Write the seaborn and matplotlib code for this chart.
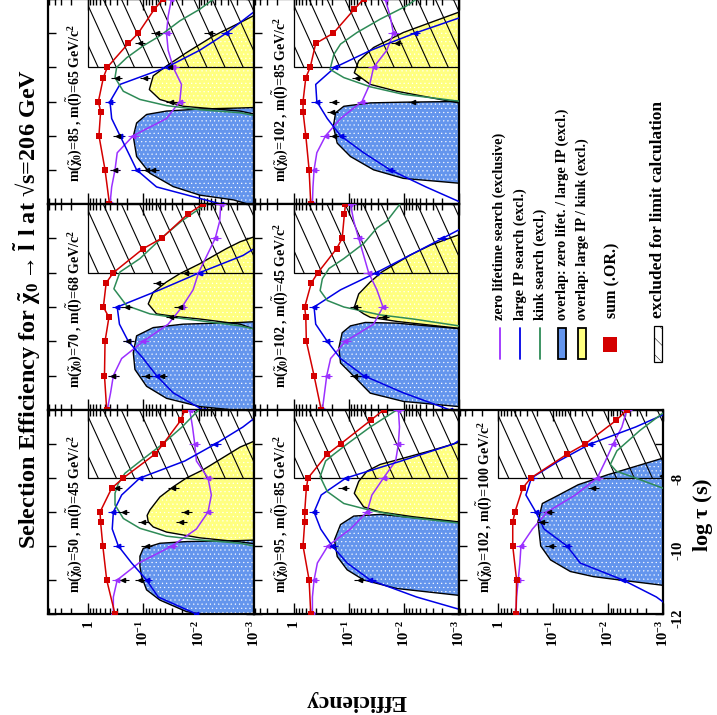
import numpy as np
import matplotlib
matplotlib.use("Agg")
import matplotlib.pyplot as plt
from matplotlib.patches import Rectangle
from matplotlib.lines import Line2D
from matplotlib.ticker import (FixedLocator, FixedFormatter, LogLocator,
                               NullFormatter, MultipleLocator, FuncFormatter)
import seaborn as sns

# ------------------------------------------------------------------
# Efficiencies are stored as log10(efficiency) versus log10(tau / s)
# ------------------------------------------------------------------
TAU_SUM = [-12, -11, -10, -9.3, -9, -8.3, -8, -7.3, -7, -6.3, -6]
TAU_GRID = [-12, -11.5, -11, -10.5, -10, -9.5, -9, -8.5, -8, -7.5, -7, -6.5, -6]

# m(chi0)=50, m(slepton)=45
sum_50_45 = [-0.49, -0.34, -0.27, -0.23, -0.22, -0.43, -0.64, -1.21, -1.36, -1.68, -1.75]
zl_50_45 = [-0.46, -0.46, -0.53, -0.92, -1.52, -1.96, -2.17, -2.23, -2.17, -1.96, -1.93, -1.89, -1.84]
ip_50_45 = [-1.96, -1.27, -1.06, -0.79, -0.55, -0.44, -0.46, -0.61, -0.94, -1.75, -2.3, -2.8, -3.2]
kink_tau_50_45 = [-10.1, -9.92, -9.82, -9.71, -9.48, -9.19, -8.79, -8.45, -8.16, -7.86, -7.5, -7.0, -6.5, -6.0]
kink_50_45 = [-3.3, -2.75, -2.02, -1.42, -0.94, -0.64, -0.49, -0.49, -0.55, -0.67, -0.95, -1.35, -1.7, -2.0]
ipk_tau_50_45 = [-9.95, -9.88, -9.76, -9.59, -9.44, -9.29, -9.1, -8.94, -8.56, -8.26, -8.0, -7.76, -7.09, -6.85]
ipk_50_45 = [-3.1, -2.75, -2.02, -1.42, -1.18, -1.09, -1.07, -1.12, -1.30, -1.54, -1.78, -2.08, -2.75, -3.1]
zli_tau_50_45 = [-12.1, -12.0, -11.93, -11.59, -11.29, -10.9, -10.6, -10.3, -10.07, -9.92, -9.87, -9.84, -9.82]
zli_50_45 = [-2.1, -2.02, -1.78, -1.30, -1.06, -0.97, -0.94, -0.94, -1.0, -1.3, -1.78, -2.75, -3.1]
pts_tau_50_45 = [-11, -11, -10, -9.3, -9, -9.3, -9, -8.3, -8.3]
pts_50_45 = [-0.64, -0.94, -1.06, -1.0, -0.65, -1.69, -1.78, -1.54, -0.52]

# m(chi0)=70, m(slepton)=68
sum_70_68 = [-0.34, -0.30, -0.31, -0.38, -0.28, -0.33, -0.46, -1.0, -1.33, -1.8, -2.08]
zl_70_68 = [-0.35, -0.41, -0.46, -0.61, -1.0, -1.45, -1.7, -1.9, -2.0, -2.15, -2.3, -2.38, -2.4]
ip_70_68 = [-2.08, -1.54, -1.24, -1.0, -0.73, -0.57, -0.53, -1.3, -2.02, -2.8, -3.3, -3.5, -3.5]
kink_tau_70_68 = [-9.75, -9.55, -9.3, -9.2, -8.96, -8.47, -7.98, -7.59, -6.95, -6.5, -6.0]
kink_70_68 = [-3.3, -2.75, -1.54, -1.12, -0.70, -0.47, -0.58, -0.94, -1.36, -1.69, -2.14]
ipk_tau_70_68 = [-9.7, -9.5, -9.35, -9.27, -9.2, -8.91, -8.57, -8.27, -8.03, -7.74, -7.3, -7.1, -6.9]
ipk_70_68 = [-3.1, -2.75, -2.02, -1.54, -1.24, -1.09, -1.18, -1.42, -1.66, -2.02, -2.5, -2.75, -3.1]
zli_tau_70_68 = [-12.1, -12.0, -11.9, -11.66, -11.31, -10.82, -10.33, -9.84, -9.6, -9.5, -9.45, -9.42]
zli_70_68 = [-2.9, -2.63, -2.02, -1.42, -1.06, -0.85, -0.82, -0.88, -1.18, -1.72, -2.75, -3.1]
pts_tau_70_68 = [-11, -10, -11, -11, -9, -8.3, -9.3, -9, -8]
pts_70_68 = [-0.46, -0.73, -1.06, -1.33, -0.70, -1.27, -1.51, -1.66, -1.78]

# m(chi0)=85, m(slepton)=65
sum_85_65 = [-0.39, -0.31, -0.20, -0.23, -0.19, -0.28, -0.35, -0.73, -0.91, -1.2, -1.36]
zl_85_65 = [-0.40, -0.43, -0.49, -0.53, -0.82, -1.42, -1.66, -1.69, -1.54, -1.45, -1.42, -1.45, -1.51]
ip_85_65 = [-2.4, -1.24, -0.88, -0.73, -0.58, -0.43, -0.40, -0.58, -1.42, -2.02, -2.5, -2.9, -3.3]
kink_tau_85_65 = [-9.5, -9.33, -9.24, -9.12, -8.94, -8.7, -8.3, -8.0, -7.72, -7.37, -7.08, -6.64, -6.3, -6.0]
kink_85_65 = [-3.3, -2.75, -2.02, -1.42, -0.94, -0.64, -0.49, -0.52, -0.70, -1.0, -1.30, -1.66, -2.02, -2.27]
ipk_tau_85_65 = [-9.4, -9.28, -9.14, -8.94, -8.65, -8.25, -7.96, -7.57, -7.08, -6.69, -6.4]
ipk_85_65 = [-3.1, -2.75, -1.72, -1.30, -1.11, -1.18, -1.42, -1.78, -2.27, -2.75, -3.1]
zli_tau_85_65 = [-12.1, -11.88, -11.74, -11.49, -11.1, -10.61, -10.02, -9.63, -9.38, -9.28, -9.22, -9.19, -9.17]
zli_85_65 = [-3.1, -2.63, -2.02, -1.54, -1.12, -0.88, -0.82, -0.88, -1.06, -1.42, -2.02, -2.75, -3.1]
pts_tau_85_65 = [-11, -10, -11, -11, -8.3, -8.3, -9, -8, -7.3, -7, -7]
pts_85_65 = [-0.49, -0.55, -1.06, -1.18, -0.52, -1.03, -1.51, -1.48, -0.94, -1.24, -2.2]

# m(chi0)=95, m(slepton)=85
sum_95_85 = [-0.31, -0.28, -0.17, -0.20, -0.20, -0.23, -0.26, -0.61, -0.85, -1.4, -1.63]
zl_95_85 = [-0.34, -0.34, -0.37, -0.43, -0.62, -1.03, -1.33, -1.42, -1.63, -1.85, -1.9, -1.92, -1.9]
ip_95_85 = [-3.3, -2.23, -1.39, -0.97, -0.70, -0.49, -0.37, -0.5, -0.95, -1.95, -2.9, -3.4, -3.5]
kink_tau_95_85 = [-9.45, -9.33, -9.14, -8.95, -8.75, -8.4, -7.96, -7.5, -7.3, -7.0, -6.5, -6.0]
kink_95_85 = [-3.3, -3.02, -1.99, -1.39, -0.91, -0.61, -0.48, -0.58, -0.73, -0.97, -1.39, -1.87]
ipk_tau_95_85 = [-9.4, -9.29, -9.14, -9.0, -8.85, -8.45, -8.1, -7.8, -7.6, -7.47, -7.2, -6.95, -6.85]
ipk_95_85 = [-3.2, -2.99, -2.17, -1.57, -1.27, -1.10, -1.18, -1.33, -1.57, -1.87, -2.48, -3.0, -3.2]
zli_tau_95_85 = [-11.6, -11.45, -11.25, -11.0, -10.7, -10.31, -9.82, -9.37, -9.12, -9.07, -9.3, -9.35]
zli_95_85 = [-3.2, -2.99, -1.87, -1.27, -0.97, -0.79, -0.74, -0.85, -1.09, -1.57, -2.99, -3.2]
pts_tau_95_85 = [-8.3, -11]
pts_95_85 = [-0.91, -1.2]

# m(chi0)=102, m(slepton)=45
sum_102_45 = [-0.50, -0.37, -0.23, -0.22, -0.20, -0.32, -0.44, -0.78, -0.88, -0.92, -0.94]
zl_102_45 = [-0.52, -0.56, -0.60, -0.67, -0.94, -1.45, -1.62, -1.51, -1.36, -1.27, -1.18, -1.09, -1.03]
ip_102_45 = [-2.84, -1.99, -1.27, -0.85, -0.61, -0.40, -0.37, -0.85, -1.5, -2.1, -2.7, -3.3, -3.5]
kink_tau_102_45 = [-9.7, -9.55, -9.35, -9.23, -9.0, -8.81, -8.52, -8.18, -7.88, -7.59, -7.15, -6.7, -6.5, -6.0]
kink_102_45 = [-3.3, -3.0, -2.17, -1.57, -0.91, -0.61, -0.48, -0.52, -0.64, -0.91, -1.27, -1.51, -1.69, -1.93]
ipk_tau_102_45 = [-9.75, -9.62, -9.42, -9.3, -9.2, -9.01, -8.62, -8.27, -7.98, -7.49, -7.2, -6.9, -6.75]
ipk_102_45 = [-3.2, -2.99, -1.87, -1.39, -1.27, -1.10, -1.18, -1.39, -1.60, -2.11, -2.48, -2.99, -3.2]
zli_tau_102_45 = [-12.05, -11.9, -11.75, -11.51, -10.92, -10.63, -10.19, -9.75, -9.55, -9.45, -9.47, -9.63, -9.68]
zli_102_45 = [-3.2, -2.99, -1.99, -1.39, -1.03, -0.85, -0.82, -0.88, -1.03, -1.3, -1.87, -2.99, -3.2]
pts_tau_102_45 = [-11, -9, -9.3]
pts_102_45 = [-1.12, -1.12, -1.63]

# m(chi0)=102, m(slepton)=85
sum_102_85 = [-0.31, -0.28, -0.22, -0.17, -0.17, -0.22, -0.30, -0.40, -0.72, -1.1, -1.27]
zl_102_85 = [-0.34, -0.35, -0.37, -0.42, -0.58, -0.85, -1.24, -1.38, -1.45, -1.69, -1.81, -1.75, -1.66]
ip_102_85 = [-3.1, -2.4, -1.75, -1.27, -0.85, -0.61, -0.42, -0.40, -0.75, -1.4, -2.2, -3.1, -3.5]
kink_tau_102_85 = [-9.1, -8.99, -8.79, -8.57, -8.3, -8.06, -7.62, -7.32, -6.98, -6.59, -6.2, -6.0]
kink_102_85 = [-3.3, -3.0, -1.99, -1.39, -0.91, -0.66, -0.73, -0.85, -1.15, -1.57, -2.05, -2.23]
ipk_tau_102_85 = [-9.1, -9.04, -8.7, -8.5, -8.16, -7.81, -7.42, -6.98, -6.69, -6.39, -6.25]
ipk_102_85 = [-3.2, -2.99, -1.87, -1.39, -1.10, -1.18, -1.45, -1.99, -2.48, -2.99, -3.2]
zli_tau_102_85 = [-11.45, -11.39, -11.25, -11.0, -10.61, -10.22, -9.73, -9.33, -9.14, -9.04, -9.02, -9.0, -8.98]
zli_102_85 = [-3.2, -2.99, -1.99, -1.45, -1.03, -0.79, -0.72, -0.76, -0.91, -1.39, -1.99, -2.99, -3.2]
pts_tau_102_85 = [-10, -9.3, -9, -8.3, -9, -7.3]
pts_102_85 = [-0.73, -0.70, -0.73, -1.15, -2.17, -1.87]

# m(chi0)=102, m(slepton)=100
sum_102_100 = [-0.32, -0.33, -0.26, -0.26, -0.30, -0.44, -0.59, -1.25, -1.58, -2.15, -2.34]
zl_102_100 = [-0.32, -0.33, -0.36, -0.39, -0.41, -0.62, -0.89, -1.40, -1.8, -1.95, -2.09, -2.25, -2.34]
ip_102_100 = [-3.3, -2.88, -2.27, -1.49, -1.25, -0.83, -0.68, -0.50, -0.6, -1.1, -1.67, -2.5, -3.2]
kink_tau_102_100 = [-8.5, -8.3, -8.0, -7.8, -7.6, -7.2, -6.6, -6.1, -6.0]
kink_102_100 = [-3.3, -3.0, -2.5, -2.15, -2.04, -2.16, -2.58, -2.99, -3.1]
ipk_tau_102_100 = [-8.15, -7.95, -7.75]
ipk_102_100 = [-3.2, -2.95, -3.2]
zli_tau_102_100 = [-11.25, -11.15, -11.0, -10.9, -10.75, -10.41, -10.0, -9.28, -8.75, -8.5, -8.2, -7.9, -7.42, -7.3]
zli_102_100 = [-3.2, -2.97, -2.21, -1.73, -1.31, -0.95, -0.77, -0.72, -0.8, -1.1, -1.45, -2.0, -2.99, -3.2]
pts_tau_102_100 = [-9, -9.3, -10, -8.3]
pts_102_100 = [-0.92, -0.80, -0.95, -1.73]

TICK_VALUES = [1, 0.1, 0.01, 0.001]
TICK_LABELS = ["1", r"$10^{-1}$", r"$10^{-2}$", r"$10^{-3}$"]
TAU_LABELS = [-12, -10, -8]

LEGEND_LABELS = ["zero lifetime search (exclusive)", "large IP search (excl.)",
                 "kink search (excl.)", "overlap: zero lifet. / large IP (excl.)",
                 "overlap: large IP / kink (excl.)", "sum (.OR.)",
                 "excluded for limit calculation"]

# ------------------------------------------------------------------
PURPLE = "#9b30ff"
BLUE = "#0000e6"
GREEN = "#2e8b57"
RED = "#d40000"
FILL_BLUE = "#6495ed"
FILL_YELLOW = "#ffff80"
EFF_MAX, EFF_MIN = 10 ** 0.72, 1e-3
FLOOR = 1e-5
REL_ERR = 1.25

sns.set_theme(style="ticks", rc={"axes.edgecolor": "black", "text.color": "black",
                                 "xtick.color": "black", "ytick.color": "black",
                                 "axes.labelcolor": "black"})
plt.rcParams["font.family"] = ["Liberation Serif", "DejaVu Serif"]
plt.rcParams["font.weight"] = "bold"
plt.rcParams["mathtext.fontset"] = "custom"
plt.rcParams["mathtext.rm"] = "Liberation Serif:bold"
plt.rcParams["mathtext.it"] = "Liberation Serif:italic:bold"
plt.rcParams["mathtext.bf"] = "Liberation Serif:bold"
plt.rcParams["mathtext.default"] = "rm"
plt.rcParams["axes.unicode_minus"] = False
plt.rcParams["hatch.linewidth"] = 0.35

W, H = 717, 715
fig = plt.figure(figsize=(W / 100, H / 100), dpi=100)
fig.patch.set_facecolor("white")


def fx(x):
    return x / W


def fy(y):
    return 1 - y / H


COLS = [(48, 254), (254, 459), (459, 663)]
ROWS = [(-1, 204), (204, 410), (410, 614)]


def panel(m_chi, m_sl, col, row, s, zl, ip, ktau, k, ytau, y, btau, b, ptau, p):
    return dict(m_chi=m_chi, m_sl=m_sl, col=col, row=row, sum=s, zl=zl, ip=ip,
                ktau=ktau, k=k, ytau=ytau, y=y, btau=btau, b=b, ptau=ptau, p=p)


PANELS = [
    panel(85, 65, 0, 0, sum_85_65, zl_85_65, ip_85_65, kink_tau_85_65, kink_85_65,
          ipk_tau_85_65, ipk_85_65, zli_tau_85_65, zli_85_65, pts_tau_85_65, pts_85_65),
    panel(70, 68, 0, 1, sum_70_68, zl_70_68, ip_70_68, kink_tau_70_68, kink_70_68,
          ipk_tau_70_68, ipk_70_68, zli_tau_70_68, zli_70_68, pts_tau_70_68, pts_70_68),
    panel(50, 45, 0, 2, sum_50_45, zl_50_45, ip_50_45, kink_tau_50_45, kink_50_45,
          ipk_tau_50_45, ipk_50_45, zli_tau_50_45, zli_50_45, pts_tau_50_45, pts_50_45),
    panel(102, 85, 1, 0, sum_102_85, zl_102_85, ip_102_85, kink_tau_102_85, kink_102_85,
          ipk_tau_102_85, ipk_102_85, zli_tau_102_85, zli_102_85, pts_tau_102_85, pts_102_85),
    panel(102, 45, 1, 1, sum_102_45, zl_102_45, ip_102_45, kink_tau_102_45, kink_102_45,
          ipk_tau_102_45, ipk_102_45, zli_tau_102_45, zli_102_45, pts_tau_102_45, pts_102_45),
    panel(95, 85, 1, 2, sum_95_85, zl_95_85, ip_95_85, kink_tau_95_85, kink_95_85,
          ipk_tau_95_85, ipk_95_85, zli_tau_95_85, zli_95_85, pts_tau_95_85, pts_95_85),
    panel(102, 100, 2, 2, sum_102_100, zl_102_100, ip_102_100, kink_tau_102_100, kink_102_100,
          ipk_tau_102_100, ipk_102_100, zli_tau_102_100, zli_102_100, pts_tau_102_100, pts_102_100),
]


def draw_fill(ax, tau, lg, color):
    tau = np.asarray(tau, float)
    eff = 10 ** np.asarray(lg, float)
    xs = np.concatenate([[FLOOR], eff, [FLOOR]])
    ys = np.concatenate([[tau[0]], tau, [tau[-1]]])
    ax.fill(xs, ys, facecolor=color, edgecolor="white", lw=0, hatch="....", zorder=1)
    ax.plot(eff, tau, color="black", lw=1.0, zorder=1.5)


def err(eff):
    eff = np.asarray(eff)
    return np.vstack([eff - eff / REL_ERR, eff * REL_ERR - eff])


def draw_panel(d):
    x0, x1 = COLS[d["col"]]
    y0, y1 = ROWS[d["row"]]
    ax = fig.add_axes([fx(x0), fy(y1), (x1 - x0) / W, (y1 - y0) / H])
    ax.set_facecolor("white")
    ax.set_xscale("log")
    ax.set_xlim(EFF_MAX, EFF_MIN)
    ax.set_ylim(-12, -6)

    draw_fill(ax, d["ytau"], d["y"], FILL_YELLOW)
    draw_fill(ax, d["btau"], d["b"], FILL_BLUE)

    # region excluded for the limit calculation
    rect = Rectangle((EFF_MIN, -8), 1 - EFF_MIN, 2, fill=False, edgecolor="black",
                     lw=0.9, zorder=2)
    ax.add_patch(rect)
    for c in np.arange(-0.7, 1.3, 0.088):
        ln, = ax.plot([c, c + 0.5], [1.0, -0.1], transform=ax.transAxes,
                      color="black", lw=0.8, zorder=2)
        ln.set_clip_path(rect)

    tg = np.array(TAU_GRID)
    sns.lineplot(x=10 ** np.array(d["zl"]), y=tg, sort=False, estimator=None,
                 color=PURPLE, lw=1.1, ax=ax, zorder=3)
    sns.lineplot(x=10 ** np.array(d["ip"]), y=tg, sort=False, estimator=None,
                 color=BLUE, lw=1.1, ax=ax, zorder=3)
    sns.lineplot(x=10 ** np.array(d["k"]), y=np.array(d["ktau"]), sort=False,
                 estimator=None, color=GREEN, lw=1.1, ax=ax, zorder=3)
    sns.lineplot(x=10 ** np.array(d["sum"]), y=np.array(TAU_SUM), sort=False,
                 estimator=None, color=RED, lw=1.1, ax=ax, zorder=3)

    # measured points at integer lifetimes
    on_int = np.isclose(tg, np.round(tg))
    for series, color in ((d["zl"], PURPLE), (d["ip"], BLUE)):
        v = np.array(series)
        keep = on_int & (v > -2.9)
        e = 10 ** v[keep]
        ax.errorbar(e, tg[keep], xerr=err(e), fmt="<", ms=3.2, color=color,
                    elinewidth=0.8, capsize=0, zorder=4)
    pe = 10 ** np.array(d["p"])
    ax.errorbar(pe, np.array(d["ptau"]), xerr=err(pe), fmt="<", ms=3.0,
                color="black", elinewidth=0.8, capsize=0, zorder=4)
    sns.scatterplot(x=10 ** np.array(d["sum"]), y=np.array(TAU_SUM), marker="s",
                    s=22, color=RED, edgecolor=RED, linewidth=0, ax=ax, zorder=5)

    ax.text(0.125, 0.105,
            r"m($\tilde{\chi}_0$)=%d , m($\tilde{l}$)=%d GeV/c$^2$" % (d["m_chi"], d["m_sl"]),
            transform=ax.transAxes, rotation=90, ha="center", va="bottom",
            fontsize=10, fontweight="bold", zorder=6)

    # axes styling
    ax.xaxis.set_major_locator(FixedLocator(TICK_VALUES))
    ax.xaxis.set_major_formatter(FixedFormatter(TICK_LABELS))
    ax.xaxis.set_minor_locator(LogLocator(base=10, subs=np.arange(2, 10), numticks=30))
    ax.xaxis.set_minor_formatter(NullFormatter())
    ax.yaxis.set_major_locator(MultipleLocator(1))
    ax.yaxis.set_major_formatter(FuncFormatter(
        lambda v, pos: "%d" % round(v) if round(v) in TAU_LABELS else ""))
    ax.tick_params(which="both", direction="in", top=True, bottom=True,
                   left=True, right=True, width=1.0, color="black")
    ax.tick_params(axis="x", which="major", length=8)
    ax.tick_params(axis="x", which="minor", length=4)
    ax.tick_params(axis="y", which="major", length=6)
    ax.tick_params(axis="x", labelbottom=(d["row"] == 2), labelrotation=90,
                   labelsize=10.5, pad=4)
    ax.tick_params(axis="y", labelleft=False, labelright=(d["col"] == 2),
                   labelrotation=90, labelsize=10.5, pad=6)
    for sp in ax.spines.values():
        sp.set_linewidth(1.6)
        sp.set_color("black")
    ax.set_xlabel("")
    ax.set_ylabel("")
    return ax


for d in PANELS:
    draw_panel(d)

# titles and axis captions
fig.text(fx(27), fy(309),
         "Selection Efficiency for " + r"$\tilde{\chi}_0 \rightarrow \tilde{l}\;\, l$"
         + " at \u221as=206 GeV",
         rotation=90, ha="center", va="center", fontsize=17.5, fontweight="bold")
fig.text(fx(356), fy(700), "Efficiency", rotation=180, ha="center", va="center",
         fontsize=17, fontweight="bold")
fig.text(fx(703), fy(515), r"log $\tau$ (s)", rotation=90, ha="center", va="center",
         fontsize=16, fontweight="bold")

# legend
line_x = [499.5, 520, 540]
for xx, color, lab in zip(line_x, (PURPLE, BLUE, GREEN), LEGEND_LABELS[:3]):
    fig.add_artist(Line2D([fx(xx), fx(xx)], [fy(328), fy(359)], color=color, lw=1.3,
                          transform=fig.transFigure))
    fig.text(fx(xx), fy(320), lab, rotation=90, ha="center", va="bottom",
             fontsize=10.3, fontweight="bold")
for xx, color, lab in zip((562, 582), (FILL_BLUE, FILL_YELLOW), LEGEND_LABELS[3:5]):
    fig.add_artist(Rectangle((fx(xx - 4), fy(359)), 8 / W, 31 / H, facecolor=color,
                             edgecolor="black", lw=1.3, transform=fig.transFigure))
    fig.text(fx(xx), fy(320), lab, rotation=90, ha="center", va="bottom",
             fontsize=10.3, fontweight="bold")
fig.add_artist(Rectangle((fx(603), fy(352)), 14 / W, 15 / H, facecolor=RED,
                         edgecolor=RED, lw=0, transform=fig.transFigure))
fig.text(fx(612), fy(318), LEGEND_LABELS[5], rotation=90, ha="center", va="bottom",
         fontsize=11.5, fontweight="bold")
fig.add_artist(Rectangle((fx(654), fy(362)), 8 / W, 36 / H, facecolor="white",
                         edgecolor="black", lw=0.9, hatch="\\\\",
                         transform=fig.transFigure))
fig.text(fx(658), fy(318), LEGEND_LABELS[6], rotation=90, ha="center", va="bottom",
         fontsize=12.5, fontweight="bold")

fig.savefig("out.png", dpi=100)
